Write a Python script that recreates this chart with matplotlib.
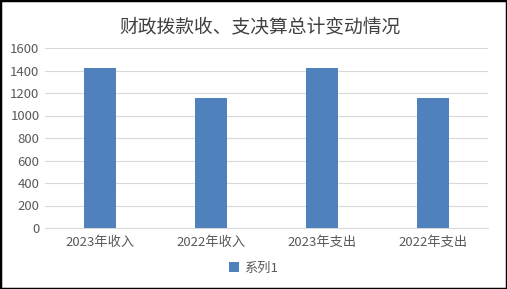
import matplotlib
matplotlib.use("Agg")
import matplotlib.pyplot as plt
from matplotlib.patches import Rectangle

plt.rcParams['font.family'] = ['Noto Sans CJK SC', 'DejaVu Sans']

categories = ["2023年收入", "2022年收入", "2023年支出", "2022年支出"]
values = [1420, 1160, 1420, 1160]
series_name = "系列1"
title = "财政拨款收、支决算总计变动情况"
yticks = [0, 200, 400, 600, 800, 1000, 1200, 1400, 1600]

fig = plt.figure(figsize=(5.07, 2.89), dpi=100)
ax = fig.add_axes([45/507, 1-228/289, (488-45)/507, (228-48)/289])

x = list(range(len(categories)))
ax.bar(x, values, width=0.29, color="#4F81BD", label=series_name, zorder=3)
ax.set_xlim(-0.5, len(categories)-0.5)
ax.set_ylim(0, 1600)
ax.set_yticks(yticks)
ax.set_yticklabels([str(t) for t in yticks])
ax.set_xticks(x)
ax.set_xticklabels(categories)
ax.grid(axis='y', color="#D9D9D9", linewidth=0.8, zorder=0)
for s in ['top', 'right', 'left']:
    ax.spines[s].set_visible(False)
ax.spines['bottom'].set_color("#D9D9D9")
ax.tick_params(axis='both', length=0, colors="#595959", labelsize=9.5)
ax.tick_params(axis='x', pad=6)
ax.tick_params(axis='y', pad=4)

fig.text(260/507, 1-27/289, title, ha='center', va='center', fontsize=13.5, color="#404040")

leg = fig.legend(loc='center', bbox_to_anchor=(0.5, 1-268/289), frameon=False,
                 fontsize=9.5, handlelength=0.7, handleheight=0.7, handletextpad=0.4)
for t in leg.get_texts():
    t.set_color("#595959")

fig.patches.append(Rectangle((0, 0), 1, 1, transform=fig.transFigure, fill=False,
                             edgecolor="black", linewidth=2.5))
fig.savefig("out.png", dpi=100)
